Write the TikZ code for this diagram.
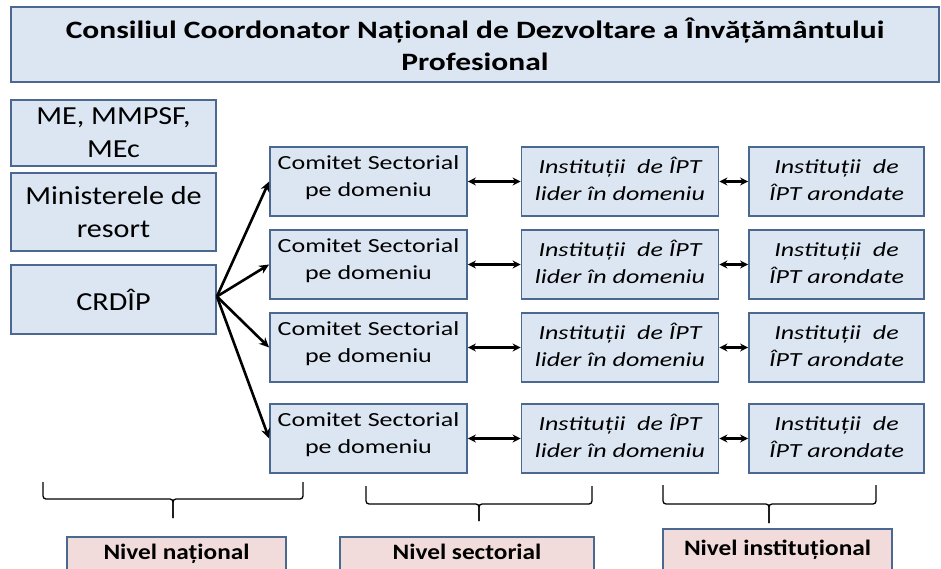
\documentclass[tikz,border=0pt]{standalone}
\usepackage{fontspec}
\setmainfont{Carlito}
\newfontfamily\ftitle[FakeStretch=1.26]{Carlito}
\newfontfamily\fbig[FakeStretch=1.16]{Carlito}
\newfontfamily\fmid[FakeStretch=1.30]{Carlito}
\newfontfamily\flevel[FakeStretch=1.15]{Carlito}
\usetikzlibrary{arrows.meta}
\definecolor{boxfill}{HTML}{DCE6F2}
\definecolor{boxline}{HTML}{4A6890}
\definecolor{pinkfill}{HTML}{F2DCDB}
\tikzset{
  box/.style={draw=boxline, fill=boxfill, line width=1.8pt, inner sep=0pt, align=center},
  bigtxt/.style={font=\fbig\fontsize{26}{33}\selectfont},
  midtxt/.style={font=\fmid\fontsize{20}{27}\selectfont, align=center, inner sep=0pt},
  ittxt/.style={font=\fmid\itshape\fontsize{20}{27}\selectfont, align=center, inner sep=0pt},
  comitet/.style={box, minimum width=197pt, minimum height=69pt},
  lider/.style={box, minimum width=197pt, minimum height=69pt},
  arond/.style={box, minimum width=175pt, minimum height=69pt},
  level/.style={draw=boxline, fill=pinkfill, line width=1.5pt, inner xsep=0pt,
    text height=14pt, text depth=22pt, anchor=base,
    font=\flevel\bfseries\fontsize{22}{26}\selectfont},
  fanarrow/.style={-{Stealth[length=10pt,width=9pt]}, line width=2.6pt, black},
  biarrow/.style={{Stealth[length=8pt,width=8pt]}-{Stealth[length=8pt,width=8pt]}, line width=2.6pt, black},
  bracepath/.style={line width=1.3pt, rounded corners=3pt, black}
}
\begin{document}
\begin{tikzpicture}[x=1pt,y=-1pt]
\useasboundingbox (0,0) rectangle (941,569);
\clip (0,0) rectangle (941,569);

\node[box, minimum width=928pt, minimum height=75pt,
      font=\ftitle\bfseries\fontsize{25}{32}\selectfont] (title) at (475,44.5)
  {Consiliul Coordonator Național de Dezvoltare a Învățământului\\Profesional};

\node[box, bigtxt, minimum width=205pt, minimum height=66pt] (me) at (113.5,133) {ME, MMPSF,\\MEc};
\node[box, bigtxt, minimum width=205pt, minimum height=78pt] (min) at (113.5,212) {Ministerele de\\resort};
\node[box, bigtxt, minimum width=205pt, minimum height=69pt] (crd) at (113.5,299.5) {CRDÎP};

\foreach \i/\y in {1/181.5, 2/264.5, 3/347.5, 4/438.5} {
  \node[comitet] (cs\i) at (368.5,\y) {};
  \node[midtxt] (cst\i) at ([yshift=4pt]cs\i.center) {Comitet Sectorial\\pe domeniu};
  \node[lider] (ld\i) at (620,\y) {};
  \node[ittxt] (ldt\i) at ([yshift=3pt]ld\i.center) {Instituții\ \ de ÎPT\\lider în domeniu};
  \node[arond] (ar\i) at (836.5,\y) {};
  \node[ittxt] (art\i) at ([yshift=1pt]ar\i.center) {Instituții\ \ de\\ÎPT arondate};
  \draw[fanarrow] ([yshift=3pt]crd.east) -- (cs\i.west);
  \draw[biarrow] (cs\i.east) -- (ld\i.west);
  \draw[biarrow] (ld\i.east) -- (ar\i.west);
}

% braces
\draw[bracepath] (43,482) -- (43,499) -- (173,499) -- (173,518);
\draw[bracepath] (303,482) -- (303,499) -- (173,499) -- (173,518);
\draw[bracepath] (366,486) -- (366,504) -- (479,504) -- (479,521);
\draw[bracepath] (592,486) -- (592,504) -- (479,504) -- (479,521);
\draw[bracepath] (663,485) -- (663,504) -- (769,504) -- (769,523);
\draw[bracepath] (876,485) -- (876,504) -- (769,504) -- (769,523);

\node[level, minimum width=219pt, inner ysep=8pt] (nat) at (176.5,559) {Nivel național};
\node[level, minimum width=254pt, inner ysep=8pt] (sec) at (467,559) {Nivel sectorial};
\node[level, minimum width=229pt, inner ysep=12pt] (ins) at (777.5,555) {Nivel instituțional};
\end{tikzpicture}
\end{document}
